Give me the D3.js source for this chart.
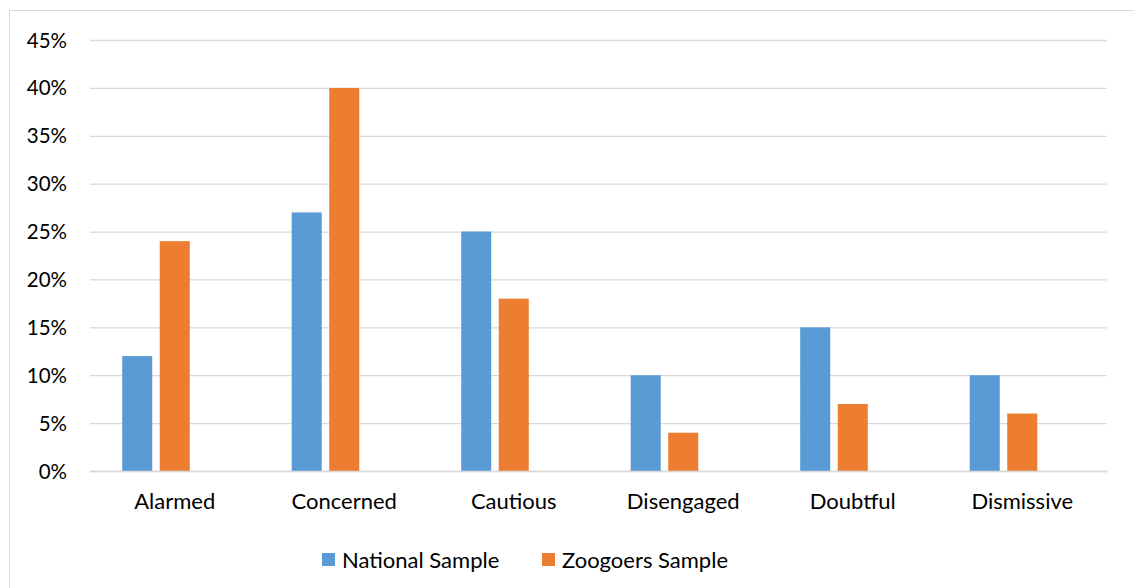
<!DOCTYPE html>
<html>
<head>
<meta charset="utf-8">
<script src="https://cdn.jsdelivr.net/npm/d3@7"></script>
<style>
  html, body { margin: 0; padding: 0; background: #fff; }
  svg { display: block; font-family: Lato, "Open Sans", sans-serif; }
</style>
</head>
<body>
<svg id="chart" width="1134" height="588"></svg>
<script>
const categories = ["Alarmed", "Concerned", "Cautious", "Disengaged", "Doubtful", "Dismissive"];
const seriesNames = ["National Sample", "Zoogoers Sample"];
const nationalValues = [12, 27, 25, 10, 15, 10];
const zoogoersValues = [24, 40, 18, 4, 7, 6];
const yTicks = [0, 5, 10, 15, 20, 25, 30, 35, 40, 45];
const colors = ["#5B9BD5", "#ED7D31"];

(function () {
const svg = d3.select("#chart");
const W = 1134, H = 588;
const mLeft = 90, mRight = 1107, mTop = 40, mBottom = 471;

// outer chart border
svg.append("rect").attr("x", 9.5).attr("y", 10.5).attr("width", W).attr("height", H)
  .attr("fill", "none").attr("stroke", "#d9d9d9").attr("stroke-width", 1);

const y = d3.scaleLinear().domain([0, 45]).range([mBottom, mTop]);
const x0 = d3.scaleBand().domain(categories).range([mLeft, mRight]).padding(0);
const bw = x0.bandwidth();
// three slots per category (third slot empty, as in the original workbook)
const slots = [...seriesNames, "_empty"];
const x1 = d3.scaleBand().domain(slots).range([bw * 0.19, bw * 0.81]).paddingInner(0.2);

// gridlines
const grid = svg.append("g").attr("transform", `translate(${mLeft},0)`)
  .call(d3.axisLeft(y).tickValues(yTicks).tickSize(-(mRight - mLeft)).tickFormat(""));
grid.select(".domain").remove();
grid.selectAll("line").attr("stroke", "#d9d9d9").attr("stroke-width", 1.3);

// y labels
svg.append("g").selectAll("text").data(yTicks).join("text")
  .attr("x", 67).attr("y", d => y(d) + 7.5)
  .attr("text-anchor", "end").attr("font-size", 20.5).attr("fill", "#000")
  .text(d => d + "%");

// bars
const data = categories.map((c, i) => ({ cat: c, vals: [nationalValues[i], zoogoersValues[i]] }));
const groups = svg.append("g").selectAll("g").data(data).join("g")
  .attr("transform", d => `translate(${x0(d.cat)},0)`);
groups.selectAll("rect").data(d => d.vals.map((v, j) => ({ v, s: seriesNames[j], j })))
  .join("rect")
  .attr("x", d => x1(d.s)).attr("width", x1.bandwidth())
  .attr("y", d => y(d.v)).attr("height", d => y(0) - y(d.v))
  .attr("fill", d => colors[d.j]);

// x labels
const xa = svg.append("g").attr("transform", `translate(0,${mBottom})`)
  .call(d3.axisBottom(x0).tickSize(0).tickPadding(22));
xa.select(".domain").attr("stroke", "#d9d9d9").attr("stroke-width", 1.3);
xa.selectAll("text").attr("font-size", 22).attr("fill", "#000")
  .attr("font-family", "Lato, 'Open Sans', sans-serif");

// legend
const legendItems = [
  { name: seriesNames[0], color: colors[0], sx: 322, tx: 342 },
  { name: seriesNames[1], color: colors[1], sx: 542, tx: 562 }
];
const lg = svg.append("g");
lg.selectAll("rect").data(legendItems).join("rect")
  .attr("x", d => d.sx).attr("y", 553).attr("width", 13).attr("height", 13)
  .attr("fill", d => d.color);
lg.selectAll("text").data(legendItems).join("text")
  .attr("x", d => d.tx).attr("y", 567.5)
  .attr("font-size", 22).attr("fill", "#000").text(d => d.name);
})();
</script>
</body>
</html>
